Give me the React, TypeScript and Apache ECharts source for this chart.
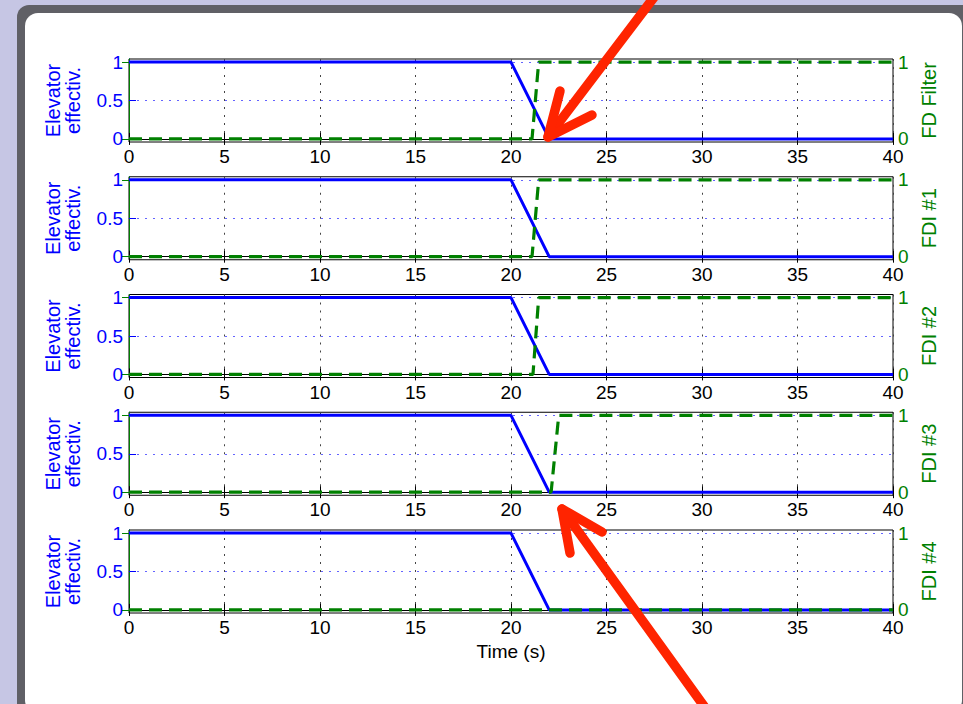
import React, { useEffect, useRef } from "react";
import * as echarts from "echarts";

// ---- data ----
const xMin = 0;
const xMax = 40;
const xInterval = 5;
const elevTime = [0, 20, 22, 40];
const elevValue = [1, 1, 0, 0];
const panelNames = ["FD Filter", "FDI #1", "FDI #2", "FDI #3", "FDI #4"];
const fdFilterTime = [0, 21.1, 21.45, 40];
const fdi1Time = [0, 21.1, 21.45, 40];
const fdi2Time = [0, 21.15, 21.45, 40];
const fdi3Time = [0, 22.1, 22.5, 40];
const fdi4Time = [0, 40];
const stepValue = [0, 0, 1, 1];
const fdi4Value = [0, 0];
const leftTicks = [0, 0.5, 1];
const rightTicks = [0, 1];
const leftName = "Elevator\neffectiv.";
const xName = "Time (s)";

const flagTimes = [fdFilterTime, fdi1Time, fdi2Time, fdi3Time, fdi4Time];
const flagValues = [stepValue, stepValue, stepValue, stepValue, fdi4Value];

const BLUE = "#0000ff";
const GREEN = "#008000";
const FONT = "Liberation Sans";

function zip(xs: number[], ys: number[]) {
  return xs.map((x, i) => [x, ys[i]]);
}

export default function App() {
  const ref = useRef<HTMLDivElement>(null);
  useEffect(() => {
    if (!ref.current) return;
    const chart = echarts.init(ref.current, undefined, { renderer: "svg" });
    const grids: any[] = [];
    const xAxes: any[] = [];
    const yAxes: any[] = [];
    const series: any[] = [];
    const top0 = 59;
    const step = 117.75;
    const h = 83;
    for (let i = 0; i < 5; i++) {
      grids.push({
        left: 129,
        width: 764,
        top: top0 + step * i,
        height: h,
        show: true,
        borderColor: "#000",
        borderWidth: 1,
        backgroundColor: "transparent",
        containLabel: false,
        outerBoundsMode: "none",
      });
      const last = i === 4;
      xAxes.push({
        type: "value",
        gridIndex: i,
        position: "bottom",
        min: xMin,
        max: xMax,
        interval: xInterval,
        axisLine: { show: true, lineStyle: { color: "#000", width: 1 } },
        axisTick: { show: true, inside: true, length: 6, lineStyle: { color: "#000" } },
        axisLabel: { show: true, color: "#000", fontSize: 19, fontFamily: FONT, margin: 5 },
        splitLine: { show: true, lineStyle: { color: "#444", type: [2, 6], width: 1 } },
        name: last ? xName : "",
        nameLocation: "middle",
        nameGap: 29,
        nameTextStyle: { color: "#000", fontSize: 19, fontFamily: FONT },
      });
      xAxes.push({
        type: "value",
        gridIndex: i,
        position: "top",
        min: xMin,
        max: xMax,
        interval: xInterval,
        axisLine: { show: true, lineStyle: { color: "#000", width: 1 } },
        axisTick: { show: true, inside: true, length: 6, lineStyle: { color: "#000" } },
        axisLabel: { show: false },
        splitLine: { show: false },
      });
      yAxes.push({
        type: "value",
        gridIndex: i,
        position: "left",
        min: -0.04,
        max: 1.04,
        axisLine: { show: true, lineStyle: { color: BLUE, width: 1 } },
        axisTick: {
          show: true,
          inside: true,
          length: 7,
          customValues: leftTicks,
          lineStyle: { color: BLUE },
        },
        axisLabel: {
          show: true,
          customValues: leftTicks,
          color: BLUE,
          fontSize: 19,
          fontFamily: FONT,
          margin: 6,
        },
        splitLine: { show: true, lineStyle: { color: "#6464ff", type: [2, 6], width: 1 } },
        name: leftName,
        nameLocation: "middle",
        nameRotate: 90,
        nameGap: 46,
        nameTextStyle: { color: BLUE, fontSize: 20, fontFamily: FONT, lineHeight: 20, align: "center" },
      });
      yAxes.push({
        type: "value",
        gridIndex: i,
        position: "right",
        min: -0.04,
        max: 1.04,
        axisLine: { show: true, lineStyle: { color: GREEN, width: 1 } },
        axisTick: {
          show: true,
          inside: true,
          length: 7,
          customValues: rightTicks,
          lineStyle: { color: GREEN },
        },
        axisLabel: {
          show: true,
          customValues: rightTicks,
          color: GREEN,
          fontSize: 19,
          fontFamily: FONT,
          margin: 5,
        },
        splitLine: { show: false },
        name: panelNames[i],
        nameLocation: "middle",
        nameRotate: 90,
        nameGap: 22,
        nameTextStyle: { color: GREEN, fontSize: 20, fontFamily: FONT },
      });
      series.push({
        type: "line",
        xAxisIndex: 2 * i,
        yAxisIndex: 2 * i,
        data: zip(elevTime, elevValue),
        symbol: "none",
        lineStyle: { color: BLUE, width: 3 },
        z: 3,
      });
      series.push({
        type: "line",
        xAxisIndex: 2 * i,
        yAxisIndex: 2 * i + 1,
        data: zip(flagTimes[i], flagValues[i]),
        symbol: "none",
        lineStyle: { color: GREEN, width: 3.2, type: [13, 7] },
        z: 4,
      });
    }

    const arrowStyle = { stroke: "#ff2400", lineWidth: 9.5, lineCap: "round", lineJoin: "round", fill: null };

    chart.setOption({
      animation: false,
      backgroundColor: "#c6c6e4",
      textStyle: { fontFamily: FONT },
      grid: grids,
      xAxis: xAxes,
      yAxis: yAxes,
      series,
      graphic: [
        {
          type: "rect",
          z: -10,
          silent: true,
          shape: { x: 17, y: 5, width: 960, height: 720, r: 12 },
          style: { fill: "#606066" },
        },
        {
          type: "rect",
          z: -9,
          silent: true,
          shape: { x: 25, y: 13, width: 937, height: 700, r: 13 },
          style: { fill: "#ffffff" },
        },
        {
          type: "polyline",
          z: 100,
          silent: true,
          shape: { points: [[658, -8], [548, 137]] },
          style: arrowStyle,
        },
        {
          type: "polyline",
          z: 100,
          silent: true,
          shape: { points: [[560, 91], [548, 137], [592, 115]] },
          style: arrowStyle,
        },
        {
          type: "polyline",
          z: 100,
          silent: true,
          shape: { points: [[714, 720], [562, 509]] },
          style: arrowStyle,
        },
        {
          type: "polyline",
          z: 100,
          silent: true,
          shape: { points: [[570, 553], [562, 509], [602, 532]] },
          style: arrowStyle,
        },
      ],
    });
    return () => chart.dispose();
  }, []);
  return (
    <div
      ref={ref}
      style={{ position: "fixed", left: 0, top: 0, width: 963, height: 704 }}
    />
  );
}
